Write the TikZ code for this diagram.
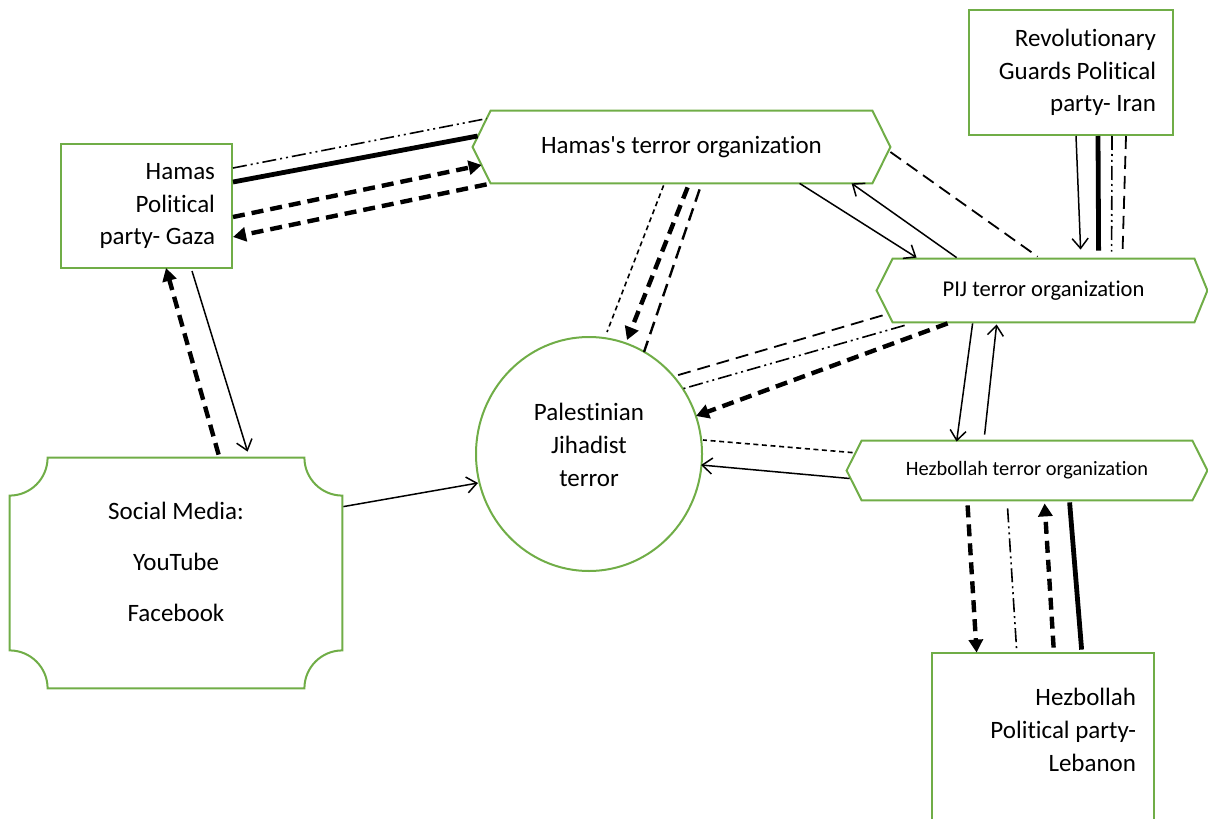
\documentclass[tikz,border=0pt]{standalone}
\usepackage{fontspec}
\setmainfont{Carlito}[Ligatures=NoCommon]
\usetikzlibrary{arrows.meta,shapes.geometric,calc}
\definecolor{grn}{HTML}{70AD47}
\newcommand\mainf{\fontsize{12.5}{16.3}\selectfont}
\tikzset{
  gline/.style={draw=grn, line width=1pt},
  hexbox/.style={rectangle, inner sep=0pt, draw=none, align=center},
  thinarr/.style={line width=0.75pt, -{Straight Barb[length=5pt,width=8pt]}},
  thickln/.style={line width=2.4pt},
  thickdash/.style={line width=2.2pt, dash pattern=on 6pt off 3.5pt},
  thickdarr/.style={thickdash, -{Triangle[length=6.5pt,width=7pt]}},
  longdash/.style={line width=0.9pt, dash pattern=on 6.5pt off 3.5pt},
  shortdash/.style={line width=0.8pt, dash pattern=on 2.5pt off 1.8pt},
  ddot/.style={line width=0.8pt, dash pattern=on 7pt off 2pt on 1pt off 2pt on 1pt off 2pt},
}
\begin{document}
\begin{tikzpicture}[x=0.5pt,y=-0.5pt]
\useasboundingbox (0,0) rectangle (1208,818);
\clip (0,0) rectangle (1208,818);

% ---------- nodes ----------
\node[gline, rectangle, minimum width=85.5pt, minimum height=62pt, inner xsep=8.5pt,
      text width=68.5pt, align=flush right, font=\mainf] (hamasbox) at (146.5,206) {Hamas\\Political\\party- Gaza};

\node[gline, rectangle, minimum width=102pt, minimum height=62.5pt, inner xsep=8.5pt,
      text width=85pt, align=flush right, font=\mainf] (revbox) at (1071,72.5) {Revolutionary\\Guards Political\\party- Iran};

\node[rectangle, draw=none, minimum width=111pt, minimum height=77pt, inner xsep=9pt,
      text width=93pt, align=flush right, font=\mainf] (hezpol) at (1043,730) {Hezbollah\\Political party-\\Lebanon};
\draw[gline] ([shift={(0,120)}]hezpol.south west) |- (hezpol.north east) -- ([shift={(0,120)}]hezpol.south east);

\node[hexbox, minimum width=190.5pt, minimum height=36pt, font=\mainf] (hamasorg) at (681.5,147) {Hamas\textquotesingle s terror organization};
\draw[gline] (hamasorg.north west) -- (hamasorg.north east) -- ([shift={(18,0)}]hamasorg.east)
  -- (hamasorg.south east) -- (hamasorg.south west) -- ([shift={(-18,0)}]hamasorg.west) -- cycle;

\node[hexbox, minimum width=150.5pt, minimum height=31.5pt, font=\fontsize{11.3}{13}\selectfont] (pij) at (1043.5,290.5) {PIJ terror organization};
\draw[gline] (pij.north west) -- (pij.north east) -- ([shift={(13,0)}]pij.east)
  -- (pij.south east) -- (pij.south west) -- ([shift={(-16,0)}]pij.west) -- cycle;

\node[hexbox, minimum width=165pt, minimum height=29.5pt, font=\fontsize{10.2}{12}\selectfont] (hezorg) at (1027,470.5) {Hezbollah terror organization};
\draw[gline] (hezorg.north west) -- (hezorg.north east) -- ([shift={(15,0)}]hezorg.east)
  -- (hezorg.south east) -- (hezorg.south west) -- ([shift={(-15,0)}]hezorg.west) -- cycle;

\node[ellipse, gline, minimum width=113pt, minimum height=117pt, inner sep=0pt] (pal) at (589,454) {};
\node[font=\mainf, align=center] (paltxt) at ([shift={(0,-9)}]pal.center) {Palestinian\\Jihadist\\terror};

\node[rectangle, draw=none, minimum width=166pt, minimum height=115pt] (social) at (176,573) {};
\draw[gline] ([shift={(38,0)}]social.north west) -- ([shift={(-38,0)}]social.north east)
  arc[start angle=180,end angle=270,radius=19pt] -- ([shift={(0,-38)}]social.south east)
  arc[start angle=90,end angle=180,radius=19pt] -- ([shift={(38,0)}]social.south west)
  arc[start angle=0,end angle=90,radius=19pt] -- ([shift={(0,38)}]social.north west)
  arc[start angle=270,end angle=360,radius=19pt] -- cycle;
\node[font=\mainf, align=center] (socialtxt) at ([shift={(0,-11)}]social.center) {Social Media:\\[9.2pt]YouTube\\[9.2pt]Facebook};

% ---------- connectors ----------
% Hamas party <-> Hamas organization
\draw[ddot] ([shift={(0,25)}]hamasbox.north east) -- ([shift={(-4,8)}]hamasorg.north west);
\draw[thickln] ([shift={(0,39)}]hamasbox.north east) -- ([shift={(-13,-11)}]hamasorg.west);
\draw[thickdarr] ([shift={(0,11)}]hamasbox.east) -- ([shift={(-9,18)}]hamasorg.west);
\draw[thickdarr] ([shift={(-4,1)}]hamasorg.south west) -- ([shift={(0,31)}]hamasbox.east);

% Hamas organization -> circle
\draw[shortdash] ([shift={(173,2)}]hamasorg.south west) -- ([shift={(18,-122)}]pal.center);
\draw[thickdarr] ([shift={(197,4)}]hamasorg.south west) -- ([shift={(38,-114)}]pal.center);
\draw[longdash, line width=1.2pt] ([shift={(209,6)}]hamasorg.south west) -- ([shift={(55,-102)}]pal.center);

% Hamas organization <-> PIJ
\draw[thinarr] ([shift={(309,0)}]hamasorg.south west) -- ([shift={(24,-1)}]pij.north west);
\draw[thinarr] ([shift={(64,-1)}]pij.north west) -- ([shift={(361,0)}]hamasorg.south west);
\draw[longdash] ([shift={(18,5)}]hamasorg.east) -- ([shift={(145,-2)}]pij.north west);

% Revolutionary Guards -> PIJ
\draw[thinarr] ([shift={(5,0)}]revbox.south) -- ([shift={(188,-9)}]pij.north west);
\draw[thickln] ([shift={(27,0)}]revbox.south) -- ([shift={(206,-8)}]pij.north west);
\draw[ddot] ([shift={(41,0)}]revbox.south) -- ([shift={(219,-7)}]pij.north west);
\draw[longdash] ([shift={(55,0)}]revbox.south) -- ([shift={(230,-9)}]pij.north west);

% PIJ -> circle
\draw[longdash] ([shift={(-10,-7)}]pij.south west) -- ([shift={(86,-78)}]pal.center);
\draw[ddot] ([shift={(12,3)}]pij.south west) -- ([shift={(93,-65)}]pal.center);
\draw[thickdarr] ([shift={(55,1)}]pij.south west) -- ([shift={(107,-38)}]pal.center);

% Hezbollah organization -> circle
\draw[shortdash] ([shift={(-9,12)}]hezorg.north west) -- ([shift={(114,-14)}]pal.center);
\draw[thinarr] ([shift={(-12,8)}]hezorg.west) -- ([shift={(112,11)}]pal.center);

% PIJ <-> Hezbollah organization
\draw[thinarr] ([shift={(80,1)}]pij.south west) -- ([shift={(95,1)}]hezorg.north west);
\draw[thinarr] ([shift={(123,-6)}]hezorg.north west) -- ([shift={(104,2)}]pij.south west);

% Hezbollah organization <-> Hezbollah party
\draw[thickdarr] ([shift={(106,5)}]hezorg.south west) -- ([shift={(45,0)}]hezpol.north west);
\draw[ddot] ([shift={(146,8)}]hezorg.south west) -- ([shift={(85,-3)}]hezpol.north west);
\draw[thickdarr] ([shift={(122,-5)}]hezpol.north west) -- ([shift={(183,3)}]hezorg.south west);
\draw[thickln] ([shift={(208,2)}]hezorg.south west) -- ([shift={(150,-3)}]hezpol.north west);

% Hamas party <-> Social media
\draw[thickdarr] ([shift={(209,-3)}]social.north west) -- ([shift={(106,-1)}]hamasbox.south west);
\draw[thinarr] ([shift={(132,2)}]hamasbox.south west) -- ([shift={(238,-6)}]social.north west);

% Social media -> circle
\draw[thinarr] ([shift={(1,49)}]social.north east) -- ([shift={(-111,29)}]pal.center);
\end{tikzpicture}
\end{document}
